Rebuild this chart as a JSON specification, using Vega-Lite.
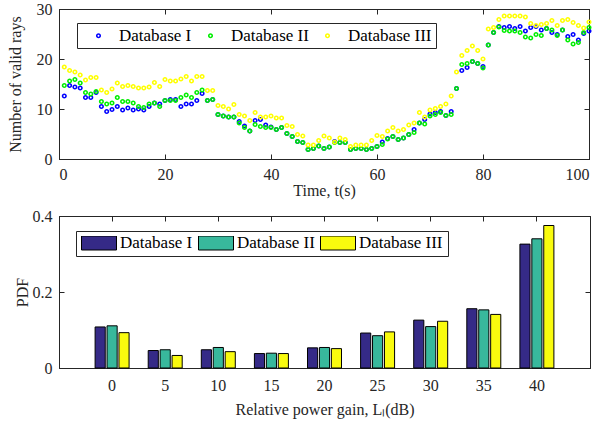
{
  "$schema": "https://vega.github.io/schema/vega-lite/v6.json",
  "padding": {"left": 6, "top": 0, "right": 14, "bottom": 5},
  "background": "white",
  "datasets": {
    "rays": [
      {"t":1,"n":12.6,"db":"Database I"},{"t":2,"n":14.7,"db":"Database I"},{"t":3,"n":14.4,"db":"Database I"},{"t":4,"n":14.2,"db":"Database I"},{"t":5,"n":12.3,"db":"Database I"},{"t":6,"n":12.3,"db":"Database I"},{"t":7,"n":13.3,"db":"Database I"},{"t":8,"n":10.5,"db":"Database I"},{"t":9,"n":9.5,"db":"Database I"},{"t":10,"n":9.9,"db":"Database I"},
      {"t":11,"n":10.5,"db":"Database I"},{"t":12,"n":9.8,"db":"Database I"},{"t":13,"n":10.2,"db":"Database I"},{"t":14,"n":9.8,"db":"Database I"},{"t":15,"n":10.0,"db":"Database I"},{"t":16,"n":9.8,"db":"Database I"},{"t":17,"n":10.5,"db":"Database I"},{"t":18,"n":11.2,"db":"Database I"},{"t":19,"n":11.0,"db":"Database I"},{"t":20,"n":11.7,"db":"Database I"},
      {"t":21,"n":11.9,"db":"Database I"},{"t":22,"n":11.9,"db":"Database I"},{"t":23,"n":10.5,"db":"Database I"},{"t":24,"n":11.0,"db":"Database I"},{"t":25,"n":11.0,"db":"Database I"},{"t":26,"n":11.7,"db":"Database I"},{"t":27,"n":13.1,"db":"Database I"},{"t":28,"n":11.7,"db":"Database I"},{"t":29,"n":11.9,"db":"Database I"},{"t":30,"n":8.9,"db":"Database I"},
      {"t":31,"n":8.6,"db":"Database I"},{"t":32,"n":8.4,"db":"Database I"},{"t":33,"n":8.4,"db":"Database I"},{"t":34,"n":7.5,"db":"Database I"},{"t":35,"n":6.6,"db":"Database I"},{"t":36,"n":5.6,"db":"Database I"},{"t":37,"n":7.7,"db":"Database I"},{"t":38,"n":7.9,"db":"Database I"},{"t":39,"n":6.8,"db":"Database I"},{"t":40,"n":6.4,"db":"Database I"},
      {"t":41,"n":5.9,"db":"Database I"},{"t":42,"n":6.3,"db":"Database I"},{"t":43,"n":5.1,"db":"Database I"},{"t":44,"n":4.5,"db":"Database I"},{"t":45,"n":3.5,"db":"Database I"},{"t":46,"n":3.3,"db":"Database I"},{"t":47,"n":1.9,"db":"Database I"},{"t":48,"n":2.1,"db":"Database I"},{"t":49,"n":2.6,"db":"Database I"},{"t":50,"n":2.1,"db":"Database I"},
      {"t":51,"n":2.4,"db":"Database I"},{"t":52,"n":3.5,"db":"Database I"},{"t":53,"n":3.3,"db":"Database I"},{"t":54,"n":3.3,"db":"Database I"},{"t":55,"n":1.9,"db":"Database I"},{"t":56,"n":2.1,"db":"Database I"},{"t":57,"n":2.1,"db":"Database I"},{"t":58,"n":1.9,"db":"Database I"},{"t":59,"n":2.1,"db":"Database I"},{"t":60,"n":2.5,"db":"Database I"},
      {"t":61,"n":3.4,"db":"Database I"},{"t":62,"n":4.1,"db":"Database I"},{"t":63,"n":4.5,"db":"Database I"},{"t":64,"n":3.9,"db":"Database I"},{"t":65,"n":4.2,"db":"Database I"},{"t":66,"n":4.9,"db":"Database I"},{"t":67,"n":5.9,"db":"Database I"},{"t":68,"n":7.2,"db":"Database I"},{"t":69,"n":7.9,"db":"Database I"},{"t":70,"n":9.0,"db":"Database I"},
      {"t":71,"n":9.3,"db":"Database I"},{"t":72,"n":9.5,"db":"Database I"},{"t":73,"n":8.7,"db":"Database I"},{"t":74,"n":9.5,"db":"Database I"},{"t":75,"n":14.1,"db":"Database I"},{"t":76,"n":17.7,"db":"Database I"},{"t":77,"n":18.3,"db":"Database I"},{"t":78,"n":19.5,"db":"Database I"},{"t":79,"n":19.1,"db":"Database I"},{"t":80,"n":18.5,"db":"Database I"},
      {"t":81,"n":22.8,"db":"Database I"},{"t":82,"n":25.3,"db":"Database I"},{"t":83,"n":26.5,"db":"Database I"},{"t":84,"n":26.3,"db":"Database I"},{"t":85,"n":26.5,"db":"Database I"},{"t":86,"n":26.1,"db":"Database I"},{"t":87,"n":26.5,"db":"Database I"},{"t":88,"n":25.6,"db":"Database I"},{"t":89,"n":26.3,"db":"Database I"},{"t":90,"n":26.5,"db":"Database I"},
      {"t":91,"n":25.8,"db":"Database I"},{"t":92,"n":26.1,"db":"Database I"},{"t":93,"n":25.3,"db":"Database I"},{"t":94,"n":24.9,"db":"Database I"},{"t":95,"n":25.8,"db":"Database I"},{"t":96,"n":24.5,"db":"Database I"},{"t":97,"n":24.9,"db":"Database I"},{"t":98,"n":23.8,"db":"Database I"},{"t":99,"n":25.1,"db":"Database I"},{"t":100,"n":25.6,"db":"Database I"},

      {"t":1,"n":14.7,"db":"Database II"},{"t":2,"n":15.6,"db":"Database II"},{"t":3,"n":15.9,"db":"Database II"},{"t":4,"n":15.2,"db":"Database II"},{"t":5,"n":13.3,"db":"Database II"},{"t":6,"n":13.0,"db":"Database II"},{"t":7,"n":13.5,"db":"Database II"},{"t":8,"n":11.5,"db":"Database II"},{"t":9,"n":11.0,"db":"Database II"},{"t":10,"n":11.2,"db":"Database II"},
      {"t":11,"n":12.3,"db":"Database II"},{"t":12,"n":11.5,"db":"Database II"},{"t":13,"n":11.5,"db":"Database II"},{"t":14,"n":11.2,"db":"Database II"},{"t":15,"n":10.5,"db":"Database II"},{"t":16,"n":10.3,"db":"Database II"},{"t":17,"n":11.0,"db":"Database II"},{"t":18,"n":11.2,"db":"Database II"},{"t":19,"n":10.5,"db":"Database II"},{"t":20,"n":11.7,"db":"Database II"},
      {"t":21,"n":11.7,"db":"Database II"},{"t":22,"n":11.7,"db":"Database II"},{"t":23,"n":12.3,"db":"Database II"},{"t":24,"n":12.8,"db":"Database II"},{"t":25,"n":12.3,"db":"Database II"},{"t":26,"n":13.3,"db":"Database II"},{"t":27,"n":13.8,"db":"Database II"},{"t":28,"n":11.7,"db":"Database II"},{"t":29,"n":11.9,"db":"Database II"},{"t":30,"n":8.9,"db":"Database II"},
      {"t":31,"n":8.6,"db":"Database II"},{"t":32,"n":8.4,"db":"Database II"},{"t":33,"n":8.4,"db":"Database II"},{"t":34,"n":7.2,"db":"Database II"},{"t":35,"n":6.3,"db":"Database II"},{"t":36,"n":5.6,"db":"Database II"},{"t":37,"n":6.9,"db":"Database II"},{"t":38,"n":6.5,"db":"Database II"},{"t":39,"n":6.3,"db":"Database II"},{"t":40,"n":6.3,"db":"Database II"},
      {"t":41,"n":5.9,"db":"Database II"},{"t":42,"n":6.3,"db":"Database II"},{"t":43,"n":5.1,"db":"Database II"},{"t":44,"n":4.5,"db":"Database II"},{"t":45,"n":3.5,"db":"Database II"},{"t":46,"n":3.3,"db":"Database II"},{"t":47,"n":1.9,"db":"Database II"},{"t":48,"n":2.1,"db":"Database II"},{"t":49,"n":2.6,"db":"Database II"},{"t":50,"n":2.1,"db":"Database II"},
      {"t":51,"n":2.4,"db":"Database II"},{"t":52,"n":3.3,"db":"Database II"},{"t":53,"n":3.3,"db":"Database II"},{"t":54,"n":3.3,"db":"Database II"},{"t":55,"n":1.9,"db":"Database II"},{"t":56,"n":2.1,"db":"Database II"},{"t":57,"n":2.1,"db":"Database II"},{"t":58,"n":1.9,"db":"Database II"},{"t":59,"n":2.1,"db":"Database II"},{"t":60,"n":2.5,"db":"Database II"},
      {"t":61,"n":2.9,"db":"Database II"},{"t":62,"n":4.0,"db":"Database II"},{"t":63,"n":4.5,"db":"Database II"},{"t":64,"n":3.9,"db":"Database II"},{"t":65,"n":4.2,"db":"Database II"},{"t":66,"n":4.9,"db":"Database II"},{"t":67,"n":5.3,"db":"Database II"},{"t":68,"n":7.2,"db":"Database II"},{"t":69,"n":7.0,"db":"Database II"},{"t":70,"n":8.6,"db":"Database II"},
      {"t":71,"n":8.9,"db":"Database II"},{"t":72,"n":9.3,"db":"Database II"},{"t":73,"n":8.7,"db":"Database II"},{"t":74,"n":8.9,"db":"Database II"},{"t":75,"n":14.1,"db":"Database II"},{"t":76,"n":18.9,"db":"Database II"},{"t":77,"n":19.1,"db":"Database II"},{"t":78,"n":19.5,"db":"Database II"},{"t":79,"n":19.1,"db":"Database II"},{"t":80,"n":18.2,"db":"Database II"},
      {"t":81,"n":22.8,"db":"Database II"},{"t":82,"n":25.3,"db":"Database II"},{"t":83,"n":26.4,"db":"Database II"},{"t":84,"n":25.7,"db":"Database II"},{"t":85,"n":25.6,"db":"Database II"},{"t":86,"n":25.6,"db":"Database II"},{"t":87,"n":25.3,"db":"Database II"},{"t":88,"n":24.4,"db":"Database II"},{"t":89,"n":24.2,"db":"Database II"},{"t":90,"n":24.9,"db":"Database II"},
      {"t":91,"n":24.7,"db":"Database II"},{"t":92,"n":26.1,"db":"Database II"},{"t":93,"n":25.8,"db":"Database II"},{"t":94,"n":24.7,"db":"Database II"},{"t":95,"n":25.8,"db":"Database II"},{"t":96,"n":23.8,"db":"Database II"},{"t":97,"n":23.0,"db":"Database II"},{"t":98,"n":23.3,"db":"Database II"},{"t":99,"n":25.3,"db":"Database II"},{"t":100,"n":26.3,"db":"Database II"},

      {"t":1,"n":18.4,"db":"Database III"},{"t":2,"n":17.7,"db":"Database III"},{"t":3,"n":17.4,"db":"Database III"},{"t":4,"n":16.8,"db":"Database III"},{"t":5,"n":15.8,"db":"Database III"},{"t":6,"n":16.3,"db":"Database III"},{"t":7,"n":16.3,"db":"Database III"},{"t":8,"n":13.8,"db":"Database III"},{"t":9,"n":13.3,"db":"Database III"},{"t":10,"n":14.0,"db":"Database III"},
      {"t":11,"n":15.2,"db":"Database III"},{"t":12,"n":14.5,"db":"Database III"},{"t":13,"n":14.7,"db":"Database III"},{"t":14,"n":14.5,"db":"Database III"},{"t":15,"n":14.2,"db":"Database III"},{"t":16,"n":14.2,"db":"Database III"},{"t":17,"n":14.4,"db":"Database III"},{"t":18,"n":15.3,"db":"Database III"},{"t":19,"n":14.5,"db":"Database III"},{"t":20,"n":15.9,"db":"Database III"},
      {"t":21,"n":15.6,"db":"Database III"},{"t":22,"n":15.6,"db":"Database III"},{"t":23,"n":16.0,"db":"Database III"},{"t":24,"n":16.5,"db":"Database III"},{"t":25,"n":15.6,"db":"Database III"},{"t":26,"n":16.5,"db":"Database III"},{"t":27,"n":16.5,"db":"Database III"},{"t":28,"n":13.7,"db":"Database III"},{"t":29,"n":13.7,"db":"Database III"},{"t":30,"n":10.7,"db":"Database III"},
      {"t":31,"n":10.5,"db":"Database III"},{"t":32,"n":10.0,"db":"Database III"},{"t":33,"n":10.9,"db":"Database III"},{"t":34,"n":8.9,"db":"Database III"},{"t":35,"n":8.6,"db":"Database III"},{"t":36,"n":7.7,"db":"Database III"},{"t":37,"n":9.3,"db":"Database III"},{"t":38,"n":8.4,"db":"Database III"},{"t":39,"n":8.4,"db":"Database III"},{"t":40,"n":8.6,"db":"Database III"},
      {"t":41,"n":8.2,"db":"Database III"},{"t":42,"n":8.2,"db":"Database III"},{"t":43,"n":6.7,"db":"Database III"},{"t":44,"n":6.5,"db":"Database III"},{"t":45,"n":4.9,"db":"Database III"},{"t":46,"n":4.6,"db":"Database III"},{"t":47,"n":2.8,"db":"Database III"},{"t":48,"n":2.8,"db":"Database III"},{"t":49,"n":3.7,"db":"Database III"},{"t":50,"n":4.6,"db":"Database III"},
      {"t":51,"n":4.2,"db":"Database III"},{"t":52,"n":3.4,"db":"Database III"},{"t":53,"n":4.2,"db":"Database III"},{"t":54,"n":3.9,"db":"Database III"},{"t":55,"n":2.5,"db":"Database III"},{"t":56,"n":2.8,"db":"Database III"},{"t":57,"n":2.8,"db":"Database III"},{"t":58,"n":2.8,"db":"Database III"},{"t":59,"n":3.7,"db":"Database III"},{"t":60,"n":4.7,"db":"Database III"},
      {"t":61,"n":4.5,"db":"Database III"},{"t":62,"n":5.6,"db":"Database III"},{"t":63,"n":6.3,"db":"Database III"},{"t":64,"n":5.6,"db":"Database III"},{"t":65,"n":5.9,"db":"Database III"},{"t":66,"n":6.8,"db":"Database III"},{"t":67,"n":7.2,"db":"Database III"},{"t":68,"n":9.3,"db":"Database III"},{"t":69,"n":8.4,"db":"Database III"},{"t":70,"n":9.8,"db":"Database III"},
      {"t":71,"n":10.1,"db":"Database III"},{"t":72,"n":10.5,"db":"Database III"},{"t":73,"n":11.0,"db":"Database III"},{"t":74,"n":12.6,"db":"Database III"},{"t":75,"n":17.4,"db":"Database III"},{"t":76,"n":20.7,"db":"Database III"},{"t":77,"n":21.7,"db":"Database III"},{"t":78,"n":22.6,"db":"Database III"},{"t":79,"n":21.7,"db":"Database III"},{"t":80,"n":20.0,"db":"Database III"},
      {"t":81,"n":26.0,"db":"Database III"},{"t":82,"n":26.3,"db":"Database III"},{"t":83,"n":27.9,"db":"Database III"},{"t":84,"n":28.6,"db":"Database III"},{"t":85,"n":28.6,"db":"Database III"},{"t":86,"n":28.6,"db":"Database III"},{"t":87,"n":28.6,"db":"Database III"},{"t":88,"n":28.4,"db":"Database III"},{"t":89,"n":27.1,"db":"Database III"},{"t":90,"n":26.7,"db":"Database III"},
      {"t":91,"n":26.9,"db":"Database III"},{"t":92,"n":27.1,"db":"Database III"},{"t":93,"n":27.7,"db":"Database III"},{"t":94,"n":26.7,"db":"Database III"},{"t":95,"n":27.7,"db":"Database III"},{"t":96,"n":27.9,"db":"Database III"},{"t":97,"n":27.3,"db":"Database III"},{"t":98,"n":26.7,"db":"Database III"},{"t":99,"n":26.2,"db":"Database III"},{"t":100,"n":27.4,"db":"Database III"}
    ],
    "bars": [
      {"g":0,"p":0.108,"db":"Database I"},{"g":0,"p":0.111,"db":"Database II"},{"g":0,"p":0.093,"db":"Database III"},
      {"g":5,"p":0.046,"db":"Database I"},{"g":5,"p":0.048,"db":"Database II"},{"g":5,"p":0.033,"db":"Database III"},
      {"g":10,"p":0.048,"db":"Database I"},{"g":10,"p":0.054,"db":"Database II"},{"g":10,"p":0.043,"db":"Database III"},
      {"g":15,"p":0.038,"db":"Database I"},{"g":15,"p":0.039,"db":"Database II"},{"g":15,"p":0.038,"db":"Database III"},
      {"g":20,"p":0.053,"db":"Database I"},{"g":20,"p":0.054,"db":"Database II"},{"g":20,"p":0.051,"db":"Database III"},
      {"g":25,"p":0.092,"db":"Database I"},{"g":25,"p":0.085,"db":"Database II"},{"g":25,"p":0.095,"db":"Database III"},
      {"g":30,"p":0.126,"db":"Database I"},{"g":30,"p":0.109,"db":"Database II"},{"g":30,"p":0.123,"db":"Database III"},
      {"g":35,"p":0.156,"db":"Database I"},{"g":35,"p":0.153,"db":"Database II"},{"g":35,"p":0.141,"db":"Database III"},
      {"g":40,"p":0.326,"db":"Database I"},{"g":40,"p":0.340,"db":"Database II"},{"g":40,"p":0.375,"db":"Database III"}
    ]
  },
  "vconcat": [
    {
      "width": 530,
      "height": 150,
      "layer": [
        {
          "data": {"name": "rays"},
          "mark": {"type": "point", "filled": false, "size": 12, "strokeWidth": 1.6, "opacity": 1},
          "encoding": {
            "x": {"field": "t", "type": "quantitative", "scale": {"domain": [0, 100], "nice": false, "zero": false},
                  "axis": {"values": [0, 20, 40, 60, 80, 100], "title": "Time, t(s)", "titlePadding": 0}},
            "y": {"field": "n", "type": "quantitative", "scale": {"domain": [0, 30], "nice": false},
                  "axis": {"values": [0, 10, 20, 30], "title": "Number of valid rays", "titlePadding": 13}},
            "color": {"field": "db", "type": "nominal",
                      "scale": {"domain": ["Database I", "Database II", "Database III"], "range": ["#0000ff", "#00ee00", "#ffff00"]},
                      "legend": {"orient": "none", "legendX": 18, "legendY": 14, "direction": "horizontal", "title": null,
                                 "strokeColor": "#262626", "fillColor": "white", "padding": 4, "labelFontSize": 17,
                                 "symbolType": "circle", "symbolSize": 12, "symbolStrokeWidth": 1.6, "symbolFillColor": "transparent",
                                 "symbolOffset": 9, "labelOffset": 12, "columnPadding": 1, "labelLimit": 200}}
          }
        },
        {
          "data": {"values": [{"t": 0, "n": 0}]},
          "mark": {"type": "point", "opacity": 0},
          "encoding": {
            "x": {"field": "t", "type": "quantitative", "axis": {"orient": "top", "labels": false, "title": null, "labelPadding": 0, "minExtent": 0, "values": [0, 20, 40, 60, 80, 100]}},
            "y": {"field": "n", "type": "quantitative", "axis": {"orient": "right", "labels": false, "title": null, "labelPadding": 0, "minExtent": 0, "values": [0, 10, 20, 30]}}
          }
        }
      ],
      "resolve": {"axis": {"x": "independent", "y": "independent"}}
    },
    {
      "width": 531,
      "height": 152,
      "layer": [
        {
          "data": {"name": "bars"},
          "mark": {"type": "bar", "stroke": "#000000", "strokeWidth": 1},
          "encoding": {
            "x": {"field": "g", "type": "ordinal", "sort": [0, 5, 10, 15, 20, 25, 30, 35, 40],
                  "scale": {"paddingInner": 0.36, "paddingOuter": 0.68},
                  "axis": {"title": "Relative power gain, Lₗ(dB)", "labelAngle": 0, "labelPadding": 14, "titlePadding": 8}},
            "xOffset": {"field": "db", "type": "nominal", "sort": ["Database I", "Database II", "Database III"], "scale": {"paddingInner": 0.15}},
            "y": {"field": "p", "type": "quantitative", "scale": {"domain": [0, 0.4], "nice": false},
                  "axis": {"values": [0, 0.2, 0.4], "format": "~g", "title": "PDF", "titlePadding": 2}},
            "color": {"field": "db", "type": "nominal",
                      "scale": {"domain": ["Database I", "Database II", "Database III"], "range": ["#352a87", "#38b89c", "#f9fb0e"]},
                      "legend": {"orient": "none", "legendX": 17, "legendY": 15, "direction": "horizontal", "title": null,
                                 "strokeColor": "#262626", "fillColor": "white", "padding": 5, "labelFontSize": 17,
                                 "symbolType": "M-1,-0.4H1V0.4H-1Z", "symbolSize": 1225, "clipHeight": 14,
                                 "symbolStrokeColor": "#000000", "symbolStrokeWidth": 1,
                                 "symbolOffset": 0, "labelOffset": 3, "columnPadding": 5, "labelLimit": 200}}
          }
        },
        {
          "data": {"name": "bars"},
          "mark": {"type": "point", "opacity": 0},
          "encoding": {
            "x": {"field": "g", "type": "ordinal", "sort": [0, 5, 10, 15, 20, 25, 30, 35, 40], "axis": {"orient": "top", "labels": false, "title": null, "labelPadding": 0, "minExtent": 0}},
            "y": {"field": "p", "type": "quantitative", "axis": {"orient": "right", "labels": false, "title": null, "labelPadding": 0, "minExtent": 0, "values": [0, 0.2, 0.4]}}
          }
        }
      ],
      "resolve": {"axis": {"x": "independent", "y": "independent"}}
    }
  ],
  "resolve": {"scale": {"color": "independent"}, "legend": {"color": "independent"}},
  "spacing": 57,
  "bounds": "flush",
  "config": {
    "font": "Liberation Serif",
    "view": {"stroke": "#262626", "strokeWidth": 1},
    "axis": {"labelFont": "Liberation Serif", "titleFont": "Liberation Serif", "labelFontSize": 16, "titleFontSize": 16,
             "titleFontWeight": "normal", "labelColor": "#262626", "titleColor": "#262626", "tickColor": "#262626",
             "domainColor": "#262626", "tickSize": -5, "labelPadding": 12, "grid": false},
    "legend": {"labelFont": "Liberation Serif", "labelFontSize": 16, "labelColor": "#000000"}
  }
}
